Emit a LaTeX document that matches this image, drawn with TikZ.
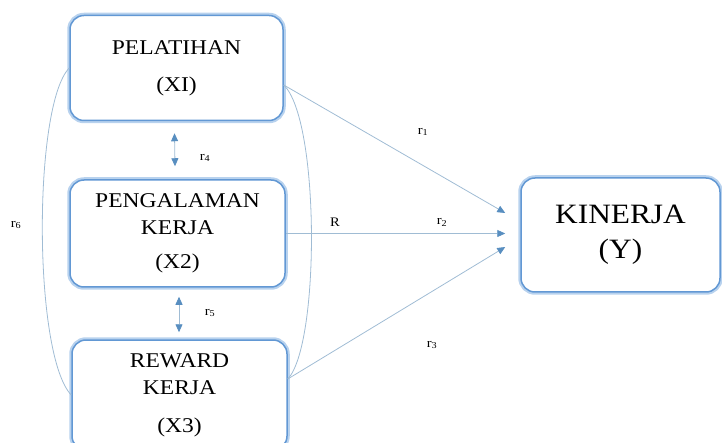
\documentclass[tikz,border=0pt]{standalone}
\usepackage{fontspec}
\setmainfont[FakeStretch=1.12]{Liberation Serif}
\usetikzlibrary{arrows.meta}
\definecolor{boxblue}{RGB}{98,152,212}
\definecolor{glowblue}{RGB}{184,210,238}
\definecolor{linegrey}{RGB}{160,188,212}
\definecolor{tipblue}{RGB}{88,142,192}

\begin{document}
\begin{tikzpicture}[x=1pt,y=-1pt]
\tikzstyle{varbox} = [rectangle, rounded corners=14pt, fill=white, draw=boxblue, line width=1.5pt,
  preaction={draw=glowblue, line width=5.5pt}, inner sep=0pt, align=center]
\tikzstyle{link} = [draw=linegrey, line width=0.8pt]
\tikzstyle{arrowlink} = [link, -{Triangle[width=7pt,length=8pt,color=tipblue]}]
\tikzstyle{bothlink} = [link, {Triangle[width=7pt,length=8pt,color=tipblue]}-{Triangle[width=7pt,length=8pt,color=tipblue]}]
\tikzstyle{rlabel} = [font=\fontsize{13}{15}\selectfont, inner sep=1pt]

\useasboundingbox (0,0) rectangle (722,443);

\node(pelatihan) [varbox, minimum width=213pt, minimum height=105pt,
  font=\fontsize{21}{25}\selectfont] at (176.5,68) {PELATIHAN\\[12pt](XI)};
\node(pengalaman) [varbox, minimum width=215pt, minimum height=107pt,
  font=\fontsize{21}{27}\selectfont] at (177.5,233.5) {PENGALAMAN\\KERJA\\[7pt](X2)};
\node(reward) [varbox, minimum width=215pt, minimum height=110pt,
  font=\fontsize{21}{27}\selectfont] at (179.5,395) {REWARD\\KERJA\\[11pt](X3)};
\node(kinerja) [varbox, minimum width=199pt, minimum height=114pt,
  font=\fontsize{28}{35}\selectfont] at (620.5,235) {KINERJA\\(Y)};

\coordinate (pelatihanOut) at ([yshift=-17pt]pelatihan.east);
\coordinate (rewardOut) at ([yshift=16pt]reward.east);
\coordinate (kinerjaIn1) at ([xshift=-15pt,yshift=22pt]kinerja.west);
\coordinate (kinerjaIn2) at ([xshift=-15pt,yshift=1.5pt]kinerja.west);
\coordinate (kinerjaIn3) at ([xshift=-15pt,yshift=-12pt]kinerja.west);

% correlation curves
\draw[link] (pelatihan.west) .. controls (33,105) and (33,355) .. (reward.west);
\draw[link] (pelatihanOut) .. controls (320,120) and (320,345) .. (rewardOut);

% paths to kinerja
\draw[arrowlink] (pelatihanOut) -- (kinerjaIn1);
\draw[arrowlink] (pengalaman.east) -- (kinerjaIn2);
\draw[arrowlink] (rewardOut) -- (kinerjaIn3);

% between variables
\draw[bothlink] ([xshift=-2pt,yshift=-12pt]pelatihan.south) -- ([xshift=-2.5pt,yshift=13pt]pengalaman.north);
\draw[bothlink] ([xshift=1.5pt,yshift=-9pt]pengalaman.south) -- ([xshift=-0.5pt,yshift=7pt]reward.north);

\node(r1) [rlabel] at (423,132) {r\textsubscript{1}};
\node(r2) [rlabel] at (442,222) {r\textsubscript{2}};
\node(r3) [rlabel] at (432,345) {r\textsubscript{3}};
\node(r4) [rlabel] at (205,158) {r\textsubscript{4}};
\node(r5) [rlabel] at (210,313) {r\textsubscript{5}};
\node(r6) [rlabel] at (16,225) {r\textsubscript{6}};
\node(bigR) [rlabel] at (335,222) {R};
\end{tikzpicture}
\end{document}
